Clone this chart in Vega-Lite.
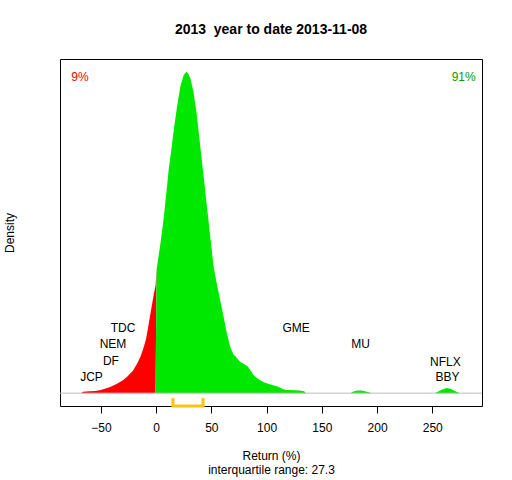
{
  "$schema": "https://vega.github.io/schema/vega-lite/v6.json",
  "autosize": "none",
  "padding": {"left": 60, "top": 59, "right": 30, "bottom": 74},
  "width": 422,
  "height": 347,
  "background": "white",
  "title": {
    "text": "2013\u00a0 year to date 2013-11-08",
    "fontSize": 14,
    "fontWeight": "bold",
    "font": "Liberation Sans",
    "color": "black",
    "anchor": "middle",
    "offset": 22
  },
  "datasets": {
    "dens": [
      {"x": -68, "d": 0, "side": "neg"},
      {"x": -66, "d": 0.004, "side": "neg"},
      {"x": -60, "d": 0.006, "side": "neg"},
      {"x": -55, "d": 0.007, "side": "neg"},
      {"x": -50, "d": 0.01, "side": "neg"},
      {"x": -45, "d": 0.015, "side": "neg"},
      {"x": -41, "d": 0.02, "side": "neg"},
      {"x": -35, "d": 0.03, "side": "neg"},
      {"x": -30, "d": 0.04, "side": "neg"},
      {"x": -26, "d": 0.052, "side": "neg"},
      {"x": -21, "d": 0.07, "side": "neg"},
      {"x": -17, "d": 0.093, "side": "neg"},
      {"x": -14, "d": 0.115, "side": "neg"},
      {"x": -11, "d": 0.145, "side": "neg"},
      {"x": -9, "d": 0.17, "side": "neg"},
      {"x": -7, "d": 0.21, "side": "neg"},
      {"x": -5, "d": 0.25, "side": "neg"},
      {"x": -3.5, "d": 0.28, "side": "neg"},
      {"x": -2, "d": 0.31, "side": "neg"},
      {"x": -0.5, "d": 0.335, "side": "neg"},
      {"x": 0.4, "d": 0.384, "side": "pos"},
      {"x": 2.4, "d": 0.43, "side": "pos"},
      {"x": 4, "d": 0.468, "side": "pos"},
      {"x": 5.4, "d": 0.505, "side": "pos"},
      {"x": 7, "d": 0.55, "side": "pos"},
      {"x": 8.4, "d": 0.595, "side": "pos"},
      {"x": 10, "d": 0.648, "side": "pos"},
      {"x": 11.4, "d": 0.696, "side": "pos"},
      {"x": 13, "d": 0.737, "side": "pos"},
      {"x": 16, "d": 0.82, "side": "pos"},
      {"x": 19, "d": 0.893, "side": "pos"},
      {"x": 22, "d": 0.955, "side": "pos"},
      {"x": 25, "d": 0.99, "side": "pos"},
      {"x": 27.4, "d": 1.0, "side": "pos"},
      {"x": 29, "d": 0.995, "side": "pos"},
      {"x": 31, "d": 0.98, "side": "pos"},
      {"x": 34, "d": 0.935, "side": "pos"},
      {"x": 37, "d": 0.862, "side": "pos"},
      {"x": 40, "d": 0.768, "side": "pos"},
      {"x": 43, "d": 0.675, "side": "pos"},
      {"x": 46, "d": 0.581, "side": "pos"},
      {"x": 49, "d": 0.488, "side": "pos"},
      {"x": 52, "d": 0.394, "side": "pos"},
      {"x": 55, "d": 0.34, "side": "pos"},
      {"x": 58, "d": 0.29, "side": "pos"},
      {"x": 61, "d": 0.239, "side": "pos"},
      {"x": 64, "d": 0.187, "side": "pos"},
      {"x": 67, "d": 0.145, "side": "pos"},
      {"x": 70, "d": 0.12, "side": "pos"},
      {"x": 72, "d": 0.114, "side": "pos"},
      {"x": 76, "d": 0.098, "side": "pos"},
      {"x": 80, "d": 0.09, "side": "pos"},
      {"x": 83, "d": 0.083, "side": "pos"},
      {"x": 86, "d": 0.068, "side": "pos"},
      {"x": 88, "d": 0.057, "side": "pos"},
      {"x": 91, "d": 0.048, "side": "pos"},
      {"x": 94, "d": 0.041, "side": "pos"},
      {"x": 97, "d": 0.035, "side": "pos"},
      {"x": 100, "d": 0.031, "side": "pos"},
      {"x": 105, "d": 0.025, "side": "pos"},
      {"x": 110, "d": 0.021, "side": "pos"},
      {"x": 115, "d": 0.012, "side": "pos"},
      {"x": 118, "d": 0.01, "side": "pos"},
      {"x": 125, "d": 0.009, "side": "pos"},
      {"x": 130, "d": 0.008, "side": "pos"},
      {"x": 134, "d": 0.006, "side": "pos"},
      {"x": 135.5, "d": 0, "side": "pos"},
      {"x": 176, "d": 0, "side": "pos"},
      {"x": 178, "d": 0.004, "side": "pos"},
      {"x": 182, "d": 0.008, "side": "pos"},
      {"x": 186, "d": 0.008, "side": "pos"},
      {"x": 190, "d": 0.005, "side": "pos"},
      {"x": 194, "d": 0.001, "side": "pos"},
      {"x": 195, "d": 0, "side": "pos"},
      {"x": 252, "d": 0, "side": "pos"},
      {"x": 255, "d": 0.004, "side": "pos"},
      {"x": 259, "d": 0.011, "side": "pos"},
      {"x": 263, "d": 0.016, "side": "pos"},
      {"x": 267, "d": 0.013, "side": "pos"},
      {"x": 271, "d": 0.006, "side": "pos"},
      {"x": 274, "d": 0.001, "side": "pos"},
      {"x": 275, "d": 0, "side": "pos"}
    ],
    "stocks": [
      {"name": "JCP", "x": -58.5, "d": 0.049},
      {"name": "DF", "x": -40.9, "d": 0.1},
      {"name": "NEM", "x": -39, "d": 0.153},
      {"name": "TDC", "x": -30, "d": 0.204},
      {"name": "GME", "x": 126.8, "d": 0.204},
      {"name": "MU", "x": 185.2, "d": 0.153},
      {"name": "NFLX", "x": 261.8, "d": 0.098},
      {"name": "BBY", "x": 263.7, "d": 0.049}
    ],
    "pct": [
      {"label": "9%", "x": -69, "d": 0.983, "side": "neg"},
      {"label": "91%", "x": 278.4, "d": 0.983, "side": "pos"}
    ],
    "iqr": [
      {"x": 15.2, "d": -0.015, "k": 1},
      {"x": 15.2, "d": -0.04, "k": 2},
      {"x": 42.5, "d": -0.04, "k": 3},
      {"x": 42.5, "d": -0.015, "k": 4}
    ]
  },
  "encoding": {
    "x": {
      "field": "x",
      "type": "quantitative",
      "scale": {"domain": [-87, 295], "nice": false, "zero": false},
      "axis": {
        "values": [-50, 0, 50, 100, 150, 200, 250],
        "title": ["Return (%)", "interquartile range: 27.3"],
        "titleFontWeight": "normal",
        "titleFontSize": 12,
        "titleLineHeight": 14,
        "titlePadding": 17,
        "titleColor": "black",
        "titleFont": "Liberation Sans",
        "labelFont": "Liberation Sans",
        "labelFontSize": 12,
        "labelColor": "black",
        "labelPadding": 9,
        "tickSize": 7,
        "tickColor": "black",
        "domain": false,
        "grid": false
      }
    },
    "y": {
      "field": "d",
      "type": "quantitative",
      "scale": {"domain": [-0.04, 1.04], "nice": false, "zero": false},
      "axis": {
        "title": "Density",
        "titleFontWeight": "normal",
        "titleFontSize": 12,
        "titleFont": "Liberation Sans",
        "titleColor": "black",
        "titlePadding": 44,
        "labels": false,
        "ticks": false,
        "domain": false,
        "grid": false
      }
    }
  },
  "layer": [
    {
      "data": {"name": "dens"},
      "mark": {"type": "area"},
      "encoding": {
        "color": {
          "field": "side",
          "type": "nominal",
          "scale": {"domain": ["neg", "pos"], "range": ["#ff0000", "#00e800"]},
          "legend": null
        }
      }
    },
    {
      "data": {"values": [{"d": 0}]},
      "mark": {"type": "rule", "color": "#bebebe", "strokeWidth": 1},
      "encoding": {"x": null, "y": {"field": "d", "type": "quantitative"}}
    },
    {
      "data": {"name": "iqr"},
      "mark": {"type": "line", "color": "#ffc20e", "strokeWidth": 3},
      "encoding": {"order": {"field": "k", "type": "quantitative"}}
    },
    {
      "data": {"name": "stocks"},
      "mark": {"type": "text", "fontSize": 12, "font": "Liberation Sans", "color": "black"},
      "encoding": {"text": {"field": "name", "type": "nominal"}}
    },
    {
      "data": {"name": "pct"},
      "mark": {"type": "text", "fontSize": 12, "font": "Liberation Sans"},
      "encoding": {
        "text": {"field": "label", "type": "nominal"},
        "color": {
          "field": "side",
          "type": "nominal",
          "scale": {"domain": ["neg", "pos"], "range": ["#ff0000", "#00a000"]},
          "legend": null
        }
      }
    }
  ],
  "resolve": {"scale": {"color": "independent"}},
  "config": {
    "view": {"stroke": "black", "strokeWidth": 1}
  }
}
